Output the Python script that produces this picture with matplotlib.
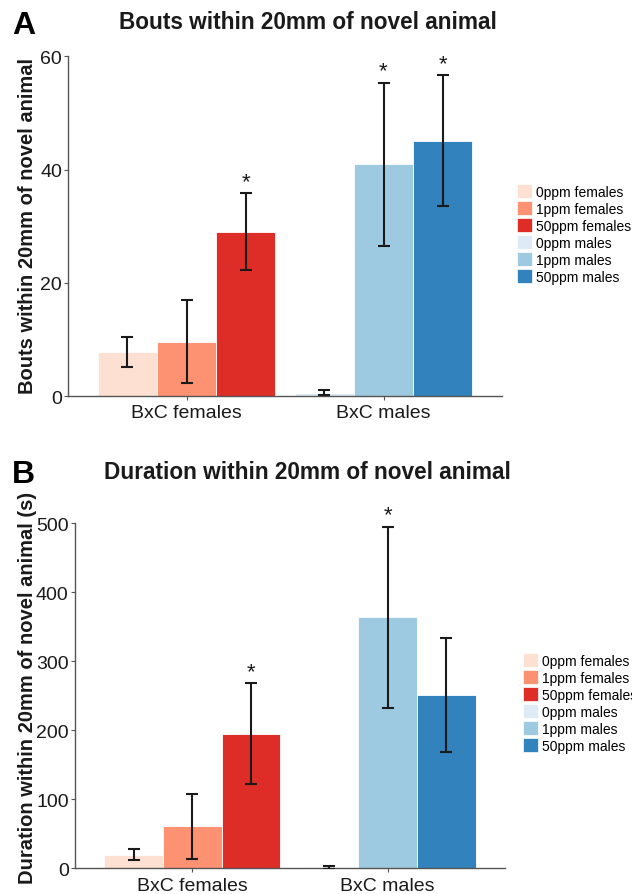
import matplotlib
matplotlib.use("Agg")
import matplotlib.pyplot as plt
from matplotlib.patches import Patch
import numpy as np

plt.rcParams['font.family'] = ['Liberation Sans', 'DejaVu Sans']

# ---- data ----
groups = ['BxC females', 'BxC males']
series_labels = ['0ppm females', '1ppm females', '50ppm females',
                 '0ppm males', '1ppm males', '50ppm males']
series_colors = ['#fee0d2', '#fc9272', '#de2d26', '#deebf7', '#9ecae1', '#3182bd']
series_group = [0, 0, 0, 1, 1, 1]
series_slot = [-1, 0, 1, -1, 0, 1]

bouts_mean = [7.7, 9.6, 29.0, 0.55, 40.9, 45.1]
bouts_err = [2.65, 7.3, 6.8, 0.45, 14.4, 11.6]
bouts_sig = [False, False, True, False, True, True]

dur_mean = [20.0, 61.0, 195.0, 1.5, 364.0, 251.0]
dur_err = [7.7, 47.0, 73.5, 2.0, 131.0, 83.0]
dur_sig = [False, False, True, False, True, False]

titles = ['Bouts within 20mm of novel animal', 'Duration within 20mm of novel animal']
ylabels = ['Bouts within 20mm of novel animal', 'Duration within 20mm of novel animal (s)']
yticks_list = [[0, 20, 40, 60], [0, 100, 200, 300, 400, 500]]
ylims = [(0, 60), (0, 500)]

W, H = 632, 895
fig = plt.figure(figsize=(W / 100, H / 100), dpi=100)

def fx(px):
    return px / W

def fy(py):
    return 1 - py / H

bar_w = 0.3
spine_col = '#555555'

panels = [
    dict(rect=[fx(68.3), fy(397), (501.7 - 68.3) / W, (397 - 57.3) / H],
         mean=bouts_mean, err=bouts_err, sig=bouts_sig,
         title_y=29, letter='A', letter_y=34, ylab_x=33, ylab_y=226,
         leg_x=517, leg_y=185),
    dict(rect=[fx(75), fy(869.3), (505 - 75) / W, (869.3 - 524.3) / H],
         mean=dur_mean, err=dur_err, sig=dur_sig,
         title_y=479, letter='B', letter_y=483, ylab_x=33, ylab_y=688,
         leg_x=523, leg_y=654),
]

for i, p in enumerate(panels):
    ax = fig.add_axes(p['rect'])
    xs = np.array([series_group[k] + series_slot[k] * bar_w for k in range(6)])
    ax.bar(xs, p['mean'], width=bar_w, color=series_colors,
           edgecolor='white', linewidth=0.6, zorder=2)
    ax.errorbar(xs, p['mean'], yerr=p['err'], fmt='none', ecolor='#1a1a1a',
                elinewidth=1.5, capsize=4.5, capthick=1.5, zorder=3)
    for k in range(6):
        if p['sig'][k]:
            ax.annotate('*', xy=(xs[k], p['mean'][k] + p['err'][k]),
                        xytext=(0, 4.5), textcoords='offset points',
                        ha='center', va='baseline', fontsize=16,
                        color='#1a1a1a', annotation_clip=False)
    ax.set_xlim(-0.6, 1.6)
    ax.set_ylim(*ylims[i])
    ax.set_yticks(yticks_list[i])
    ax.set_xticks([0, 1])
    ax.set_xticklabels(groups)
    for s in ['top', 'right']:
        ax.spines[s].set_visible(False)
    for s in ['left', 'bottom']:
        ax.spines[s].set_color(spine_col)
        ax.spines[s].set_linewidth(1.0)
    ax.tick_params(axis='both', colors=spine_col, labelcolor='#1a1a1a',
                   length=3, width=0.8, labelsize=14)
    ax.tick_params(axis='y', pad=1.5)
    ax.tick_params(axis='x', pad=3)

    fig.text(fx(307.5), fy(p['title_y']), titles[i], ha='center', va='baseline',
             fontsize=16.3, fontweight='bold', color='#1a1a1a')
    fig.text(fx(12), fy(p['letter_y']), p['letter'], ha='left', va='baseline',
             fontsize=23, fontweight='bold', color='black')
    fig.text(fx(p['ylab_x']), fy(p['ylab_y']), ylabels[i], rotation=90,
             rotation_mode='anchor', ha='center', va='baseline',
             fontsize=14.5, fontweight='bold', color='#1a1a1a')

    handles = [Patch(facecolor=c, edgecolor='white', linewidth=0.5) for c in series_colors]
    fig.legend(handles, series_labels, loc='upper left',
               bbox_to_anchor=(fx(p['leg_x']), fy(p['leg_y'])),
               frameon=False, borderpad=0, borderaxespad=0,
               handlelength=1.1, handleheight=1.2, labelspacing=0.16,
               handletextpad=0.28, fontsize=10)

fig.savefig('out.png', dpi=100)
